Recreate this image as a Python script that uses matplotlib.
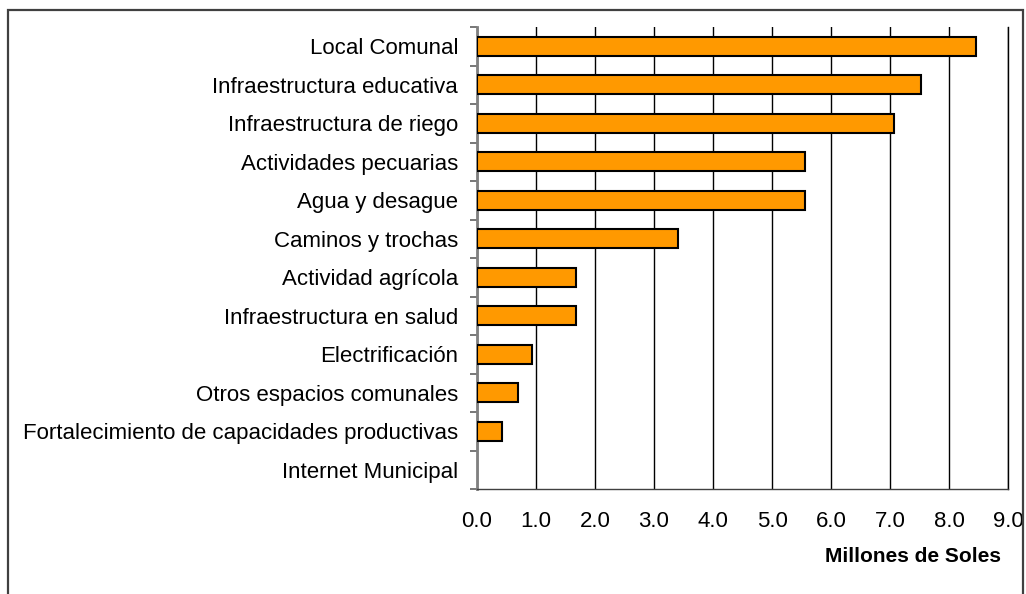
import numpy as np
import matplotlib.pyplot as plt
from matplotlib.patches import Rectangle

# datos (millones de soles)
categorias = ['Local Comunal', 'Infraestructura educativa', 'Infraestructura de riego',
              'Actividades pecuarias', 'Agua y desague', 'Caminos y trochas',
              'Actividad agrícola', 'Infraestructura en salud', 'Electrificación',
              'Otros espacios comunales', 'Fortalecimiento de capacidades productivas',
              'Internet Municipal']
montos = [8.46, 7.52, 7.06, 5.56, 5.56, 3.40, 1.67, 1.67, 0.94, 0.70, 0.42, 0.0]
ticks_x = np.arange(0, 10, 1)

plt.rcParams['font.family'] = ['Liberation Sans', 'DejaVu Sans']

fig = plt.figure(figsize=(10.26, 5.94), dpi=100)
ax = fig.add_axes([477 / 1026, 1 - 489 / 594, (1008 - 477) / 1026, (489 - 27) / 594])

y = np.arange(len(categorias))
barras = ax.barh(y, montos, height=0.5, color='#FF9900', edgecolor='black', linewidth=1.5, zorder=3)
for b, v in zip(barras, montos):
    if v == 0:
        b.set_linewidth(0)
ax.set_ylim(len(categorias) - 0.5, -0.5)
ax.set_xlim(0, 9)

ax.set_xticks(ticks_x)
ax.set_xticklabels([f'{v:.1f}' for v in ticks_x], fontsize=16)
ax.set_yticks(y)
ax.set_yticklabels(categorias, fontsize=16)
ax.set_yticks(np.arange(-0.5, len(categorias), 1), minor=True)
ax.tick_params(axis='y', which='major', length=0, pad=13.5)
ax.tick_params(axis='y', which='minor', length=5, width=1.2, color='#606060')
ax.tick_params(axis='x', which='major', length=0, pad=16)

ax.grid(axis='x', color='black', linewidth=1.0, zorder=0)
ax.axvline(9, color='black', linewidth=1.0, clip_on=False, zorder=0)
for s in ['top', 'right']:
    ax.spines[s].set_visible(False)
ax.spines['left'].set_color('#808080')
ax.spines['left'].set_linewidth(2)
ax.spines['bottom'].set_color('#404040')
ax.spines['bottom'].set_linewidth(1.0)

fig.text(1001 / 1026, 1 - 556 / 594, 'Millones de Soles', fontsize=15,
         fontweight='bold', ha='right', va='center')

# marco exterior
fig.patches.append(Rectangle((8 / 1026, -0.05), (1023 - 8) / 1026, 1.05 - 10 / 594,
                             transform=fig.transFigure, fill=False,
                             edgecolor='#404040', linewidth=1.6))

fig.savefig('out.png', dpi=100)
